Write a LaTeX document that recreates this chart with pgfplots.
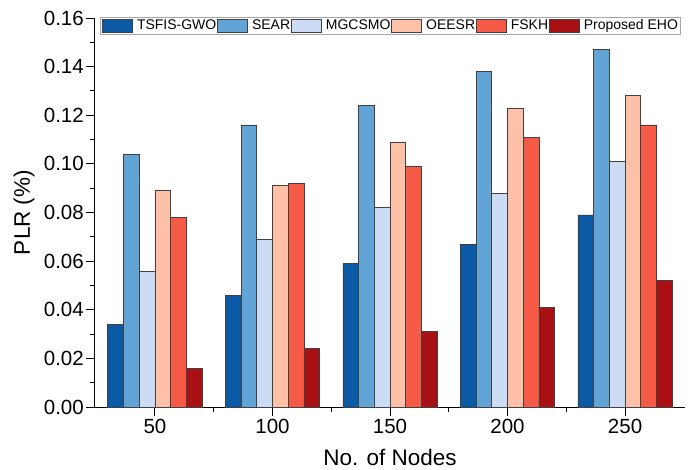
\documentclass[border=0pt]{standalone}
\usepackage{pgfplots}
\pgfplotsset{compat=1.18}
\usepackage{fontspec}
\setmainfont{Liberation Sans}
\definecolor{cA}{RGB}{10,90,165}
\definecolor{cB}{RGB}{98,164,214}
\definecolor{cC}{RGB}{204,220,244}
\definecolor{cD}{RGB}{254,193,168}
\definecolor{cE}{RGB}{244,90,69}
\definecolor{cF}{RGB}{168,16,20}
\begin{document}
\begin{tikzpicture}
\useasboundingbox (-95pt,-62pt) rectangle (596pt,407pt);
\begin{axis}[
  at={(0pt,0pt)}, anchor=south west,
  scale only axis, width=590pt, height=389pt,
  ybar=0pt, bar width=6.68,
  xmin=24.5, xmax=275.5, ymin=0, ymax=0.16,
  xtick={50,100,150,200,250}, minor x tick num=1,
  ytick={0,0.02,0.04,0.06,0.08,0.10,0.12,0.14,0.16}, minor y tick num=1,
  axis x line*=bottom, axis y line*=left,
  axis line style={line width=1pt, -},
  tick style={black, line width=0.9pt},
  major tick length=9pt, minor tick length=4.5pt,
  tick pos=left, tick align=outside,
  /pgf/number format/assume math mode=true,
  yticklabel style={/pgf/number format/fixed, /pgf/number format/fixed zerofill, /pgf/number format/precision=2, font=\fontsize{20.5}{22}\selectfont, inner xsep=2pt},
  xticklabel style={font=\fontsize{20.5}{22}\selectfont},
  scaled y ticks=false,
  xlabel={No. of Nodes}, ylabel={PLR (\%)},
  label style={font=\fontsize{22.5}{24}\selectfont},
  xlabel style={at={(axis description cs:0.5,0)}, anchor=center, yshift=-50pt},
  ylabel style={at={(axis description cs:-0.1203,0.5)}, anchor=center},
  every axis plot/.append style={draw=black!75, line width=0.7pt},
  legend columns=6,
  legend style={at={(0.0085,1.003)}, anchor=north west, draw=black!35, line width=0.6pt,
    font=\fontsize{14}{16}\selectfont, inner sep=1.5pt, column sep=0pt,
    nodes={inner xsep=0.5pt, inner ysep=1pt}},
  legend image code/.code={\path (0pt,0pt) (34pt,0pt); \draw[#1] (0.5pt,-6.5pt) rectangle (30.5pt,6.5pt);},
]
\addplot[fill=cA] coordinates {(50,0.034) (100,0.046) (150,0.059) (200,0.067) (250,0.079)};
\addplot[fill=cB] coordinates {(50,0.104) (100,0.116) (150,0.124) (200,0.138) (250,0.147)};
\addplot[fill=cC] coordinates {(50,0.056) (100,0.069) (150,0.082) (200,0.088) (250,0.101)};
\addplot[fill=cD] coordinates {(50,0.089) (100,0.091) (150,0.109) (200,0.123) (250,0.128)};
\addplot[fill=cE] coordinates {(50,0.078) (100,0.092) (150,0.099) (200,0.111) (250,0.116)};
\addplot[fill=cF] coordinates {(50,0.016) (100,0.024) (150,0.031) (200,0.041) (250,0.052)};
\legend{TSFIS-GWO,SEAR,MGCSMO,OEESR,FSKH,Proposed EHO}
\end{axis}
\end{tikzpicture}
\end{document}
